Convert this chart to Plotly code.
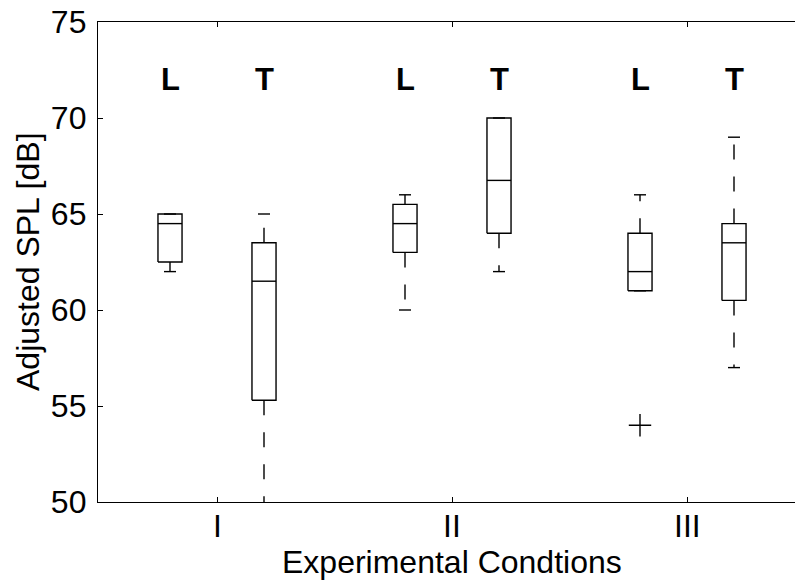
import plotly.graph_objects as go

# ---- data ----
positions = [1, 2, 3.5, 4.5, 6, 7]
box_labels = ["L", "T", "L", "T", "L", "T"]
q1 = [62.5, 55.3, 63.0, 64.0, 61.0, 60.5]
medians = [64.5, 61.5, 64.5, 66.75, 62.0, 63.5]
q3 = [65.0, 63.5, 65.5, 70.0, 64.0, 64.5]
lower_whisker = [62.0, 47.0, 60.0, 62.0, 61.0, 57.0]
upper_whisker = [65.0, 65.0, 66.0, 70.0, 66.0, 69.0]
outliers = [[], [], [], [], [54.0], []]
group_ticks = [1.5, 4, 6.5]
group_labels = ["I", "II", "III"]
label_y = 72

FONT = "Liberation Sans, Arial, sans-serif"
HW = 0.128   # half box width
CW = 0.064   # half cap width

fig = go.Figure()

bx, by, mx, my, wx, wy, cx, cy, ox, oy = [], [], [], [], [], [], [], [], [], []
for i, p in enumerate(positions):
    bx += [p - HW, p + HW, p + HW, p - HW, p - HW, None]
    by += [q1[i], q1[i], q3[i], q3[i], q1[i], None]
    mx += [p - HW, p + HW, None]
    my += [medians[i], medians[i], None]
    wx += [p, p, None, p, p, None]
    wy += [q3[i], upper_whisker[i], None, q1[i], lower_whisker[i], None]
    cx += [p - CW, p + CW, None, p - CW, p + CW, None]
    cy += [upper_whisker[i], upper_whisker[i], None, lower_whisker[i], lower_whisker[i], None]
    for o in outliers[i]:
        ox.append(p)
        oy.append(o)

line = dict(color="black", width=1.4)
fig.add_trace(go.Scatter(x=wx, y=wy, mode="lines",
                         line=dict(color="black", width=1.4, dash="15px,17px"),
                         hoverinfo="skip"))
fig.add_trace(go.Scatter(x=bx, y=by, mode="lines", line=line, hoverinfo="skip"))
fig.add_trace(go.Scatter(x=mx, y=my, mode="lines", line=line, hoverinfo="skip"))
fig.add_trace(go.Scatter(x=cx, y=cy, mode="lines", line=line, hoverinfo="skip"))
fig.add_trace(go.Scatter(x=ox, y=oy, mode="markers",
                         marker=dict(symbol="cross-thin", size=16,
                                     line=dict(color="black", width=1.4)),
                         hoverinfo="skip"))

for p, t in zip(positions, box_labels):
    fig.add_annotation(x=p, y=label_y, xref="x", yref="y", text=f"<b>{t}</b>",
                       showarrow=False, font=dict(family=FONT, size=31, color="black"))

# x tick labels as annotations for precise placement
for gx, gl in zip(group_ticks, group_labels):
    fig.add_annotation(x=gx, y=(502 - 526) / 480, xref="x", yref="paper", text=gl,
                       showarrow=False, yanchor="middle",
                       font=dict(family=FONT, size=32, color="black"))

# x-axis label centered on full axis (center at II)
fig.add_annotation(x=4, y=(502 - 562) / 480, xref="x", yref="paper", text="Experimental Condtions",
                   showarrow=False, yanchor="middle",
                   font=dict(family=FONT, size=32, color="black"))
fig.add_annotation(x=(28 - 98) / 697, y=0.5, xref="paper", yref="paper",
                   text="Adjusted SPL [dB]", textangle=-90, showarrow=False,
                   xanchor="center", yanchor="middle",
                   font=dict(family=FONT, size=32, color="black"))

fig.update_layout(
    width=795, height=580,
    margin=dict(l=98, r=0, t=22, b=78),
    paper_bgcolor="white", plot_bgcolor="white",
    showlegend=False,
    font=dict(family=FONT, size=32, color="black"),
)
fig.update_xaxes(range=[0.234, 0.234 + 697 / 94], tickvals=group_ticks, showticklabels=False,
                 ticks="inside", ticklen=5, tickcolor="black", tickwidth=1,
                 showline=True, linecolor="black", linewidth=1.3, mirror="ticks",
                 showgrid=False, zeroline=False)
fig.update_yaxes(range=[50, 75], tickvals=[50, 55, 60, 65, 70, 75],
                 ticks="inside", ticklen=5, tickcolor="black", tickwidth=1,
                 showline=True, linecolor="black", linewidth=1.3, mirror=False,
                 showgrid=False, zeroline=False, ticklabelstandoff=4,
                 tickfont=dict(family=FONT, size=32, color="black"))

fig.write_html("out.html")
